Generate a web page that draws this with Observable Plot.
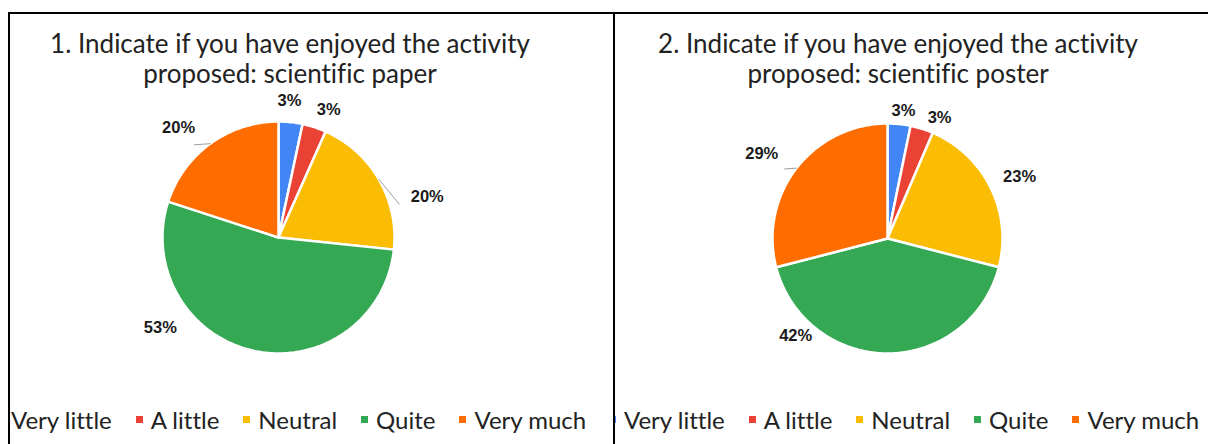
<!DOCTYPE html>
<html><head><meta charset="utf-8">
<script src="https://cdn.jsdelivr.net/npm/d3@7"></script>
<script src="https://cdn.jsdelivr.net/npm/@observablehq/plot@0.6"></script>
<style>
body{margin:0;background:#fff;}
#root{position:relative;width:1208px;height:444px;overflow:hidden;background:#fff;font-family:Lato,"Open Sans",sans-serif;font-variant-ligatures:none;}
#root svg{position:absolute;left:0;top:0;}
.border{position:absolute;background:#000;}
.title{position:absolute;text-align:center;font-size:26px;line-height:30px;color:#222;white-space:nowrap;}
.legend-clip{position:absolute;overflow:hidden;height:32px;}
.legend{position:absolute;top:0;height:32px;white-space:nowrap;display:flex;align-items:center;font-size:24px;color:#222;}
.item{display:flex;align-items:center;margin-right:24px;}
.sw{width:7px;height:7px;margin-right:8px;}
</style></head><body><div id="root"></div>
<script>
// ---- data ----
const categories = ["Very little", "A little", "Neutral", "Quite", "Very much"];
const colors = ["#4285F4", "#EA4335", "#FBBC04", "#34A853", "#FF6D01"];
const paperCounts = [1, 1, 6, 16, 6];
const posterCounts = [1, 1, 7, 13, 9];
const paperTitle = ["1. Indicate if you have enjoyed the activity", "proposed: scientific paper"];
const posterTitle = ["2. Indicate if you have enjoyed the activity", "proposed: scientific poster"];

// ---- label layout (angle nudge in degrees, distance in radii, leader line flag) ----
const paperLabelNudge = [-1.4, 3.5, 14.6, 40.7, -6.3];
const paperLabelDist = [1.18, 1.18, 1.33, 1.28, 1.28];
const paperLeader = [0, 0, 1, 0, 1];
const posterLabelNudge = [1.3, 6.0, 0.9, 43.5, -3.7];
const posterLabelDist = [1.12, 1.14, 1.27, 1.16, 1.32];
const posterLeader = [0, 0, 0, 0, 1];

const root = document.getElementById("root");
const W = 1208, H = 444;

function polar(deg, d) {
  const a = deg * Math.PI / 180;
  return {x: Math.sin(a) * d, y: Math.cos(a) * d};
}

function pieChart(counts, nudges, dists, leaders, cx, cy, r) {
  const total = d3.sum(counts);
  const arcs = d3.pie().sort(null).value(d => d)(counts);
  const slices = [];
  const labels = [];
  const leaderPts = [];
  arcs.forEach((a, i) => {
    const a0 = a.startAngle * 180 / Math.PI, a1 = a.endAngle * 180 / Math.PI;
    const cat = categories[i];
    slices.push({cat, x: 0, y: 0});
    const n = Math.max(2, Math.ceil(a1 - a0));
    for (let k = 0; k <= n; k++) {
      const p = polar(a0 + (a1 - a0) * k / n, 1);
      slices.push({cat, x: p.x, y: p.y});
    }
    slices.push({cat, x: 0, y: 0});
    const mid = (a0 + a1) / 2;
    const la = mid + nudges[i];
    const lp = polar(la, dists[i]);
    const text = Math.round(100 * counts[i] / total) + "%";
    labels.push({cat, x: lp.x, y: lp.y, text});
    if (leaders[i]) {
      const p0 = polar(mid, 1.0);
      const p1 = polar(la, 1.08);
      const hw = (text.length * 8.5 + 4) / r;
      const right = lp.x > 0;
      const p2x = right ? Math.max(p1.x, lp.x - hw) : Math.min(p1.x, lp.x + hw);
      leaderPts.push({cat, x: p0.x, y: p0.y}, {cat, x: p1.x, y: p1.y}, {cat, x: p2x, y: p1.y});
    }
  });
  return Plot.plot({
    width: W, height: H,
    margin: 0,
    style: {background: "transparent", overflow: "visible"},
    x: {domain: [-1, 1], range: [cx - r, cx + r], axis: null},
    y: {domain: [-1, 1], range: [cy + r, cy - r], axis: null},
    color: {domain: categories, range: colors},
    marks: [
      Plot.line(slices, {x: "x", y: "y", z: "cat", fill: "cat", stroke: "white", strokeWidth: 2.5, strokeLinejoin: "round", curve: "linear"}),
      Plot.line(leaderPts, {x: "x", y: "y", z: "cat", stroke: "#9e9e9e", strokeWidth: 1}),
      Plot.text(labels, {x: "x", y: "y", text: "text", fontSize: 16.5, fontWeight: "bold", fontFamily: "'Liberation Sans', Arial, sans-serif", fill: "#1a1a1a"})
    ]
  });
}

root.appendChild(pieChart(paperCounts, paperLabelNudge, paperLabelDist, paperLeader, 278, 237, 116));
root.appendChild(pieChart(posterCounts, posterLabelNudge, posterLabelDist, posterLeader, 887, 238, 115));

function addDiv(cls, style, html) {
  const d = document.createElement("div");
  d.className = cls;
  Object.assign(d.style, style);
  if (html != null) d.innerHTML = html;
  root.appendChild(d);
  return d;
}
// borders
addDiv("border", {left: "8px", top: "12px", width: (W - 8) + "px", height: "2px"});
addDiv("border", {left: "8px", top: "12px", width: "2px", height: (H - 12) + "px"});
addDiv("border", {left: "613px", top: "12px", width: "2px", height: (H - 12) + "px"});

// titles
addDiv("title", {left: "40px", top: "28px", width: "500px"}, paperTitle.join("<br>"));
addDiv("title", {left: "648px", top: "28px", width: "500px"}, posterTitle.join("<br>"));

// legends
function legend(clipLeft, clipWidth, rowLeft) {
  const clip = addDiv("legend-clip", {left: clipLeft + "px", top: "403px", width: clipWidth + "px"});
  const row = document.createElement("div");
  row.className = "legend";
  row.style.left = (rowLeft - clipLeft) + "px";
  categories.forEach((c, i) => {
    const it = document.createElement("div");
    it.className = "item";
    const sw = document.createElement("div");
    sw.className = "sw";
    sw.style.background = colors[i];
    const t = document.createElement("span");
    t.textContent = c;
    it.appendChild(sw); it.appendChild(t);
    row.appendChild(it);
  });
  clip.appendChild(row);
}
legend(10, 603, -4);
legend(615, 593, 609);
</script></body></html>
